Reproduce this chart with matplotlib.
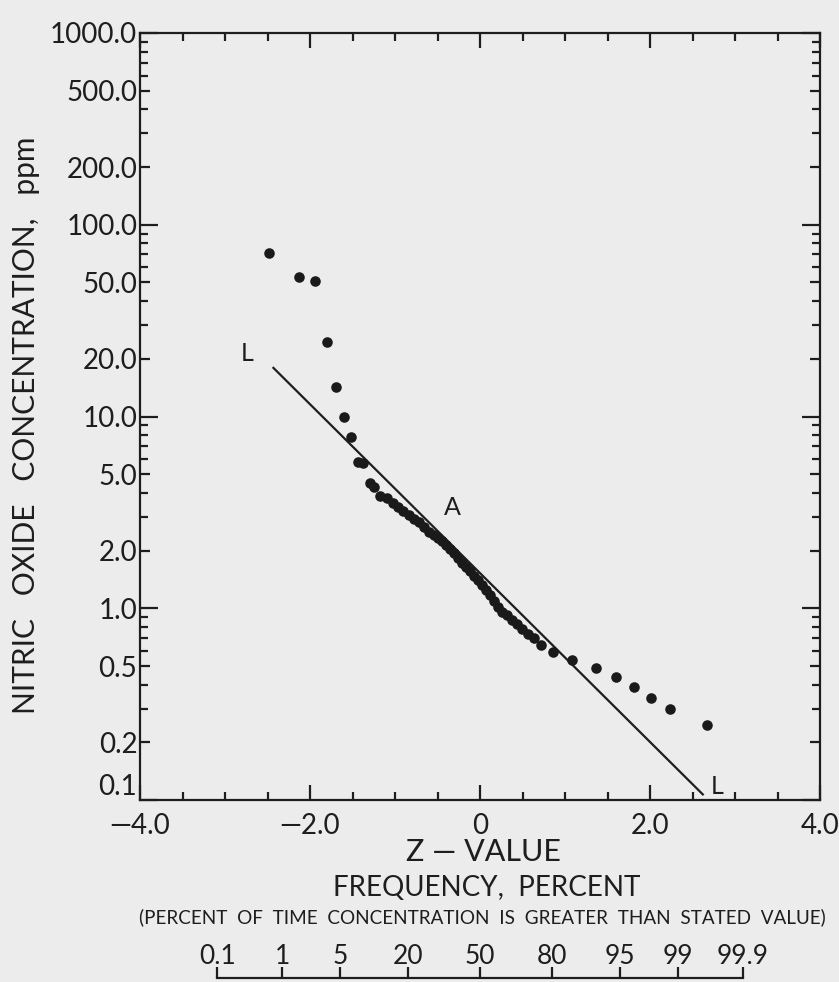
"""
Nitric oxide concentration vs. Z-value (log-normal probability plot).
"""

from statistics import NormalDist

import matplotlib
matplotlib.use("Agg")
import matplotlib.pyplot as plt
import numpy as np

plt.rcParams["font.family"] = ["Lato", "DejaVu Sans"]

# ── Data ─────────────────────────────────────────────────────────────

# observed points (Z-value, NO concentration in ppm)
Z_OBS = [-2.48, -2.13, -1.94, -1.80, -1.69, -1.60, -1.52, -1.44, -1.38, -1.29,
         -1.25, -1.18, -1.09, -1.02, -0.96, -0.91, -0.84, -0.78, -0.72, -0.66,
         -0.60, -0.54, -0.49, -0.45, -0.40, -0.35, -0.31, -0.26, -0.21, -0.16,
         -0.12, -0.07, -0.02, 0.02, 0.07, 0.12, 0.16, 0.21, 0.26, 0.32,
         0.38, 0.44, 0.49, 0.56, 0.64, 0.72, 0.86, 1.08, 1.36, 1.60,
         1.81, 2.01, 2.24, 2.67]
CONC_OBS = [71.0, 53.2, 50.7, 24.4, 14.2, 9.9, 7.8, 5.77, 5.70, 4.49,
            4.28, 3.84, 3.75, 3.53, 3.36, 3.21, 3.05, 2.91, 2.81, 2.64,
            2.49, 2.40, 2.32, 2.23, 2.13, 2.03, 1.94, 1.82, 1.72, 1.64,
            1.56, 1.47, 1.40, 1.32, 1.24, 1.17, 1.09, 1.02, 0.96, 0.92,
            0.87, 0.83, 0.78, 0.73, 0.70, 0.64, 0.59, 0.54, 0.49, 0.44,
            0.39, 0.34, 0.30, 0.245]

# fitted log-normal line L-L
Z_LINE = [-2.44, 2.63]
CONC_LINE = [18.1, 0.106]

Y_TICKS = [0.1, 0.2, 0.5, 1, 2, 5, 10, 20, 50, 100, 200, 500, 1000]
Y_TICK_LABELS = ["0.1", "0.2", "0.5", "1.0", "2.0", "5.0", "10.0", "20.0",
                 "50.0", "100.0", "200.0", "500.0", "1000.0"]
X_TICKS = [-4, -2, 0, 2, 4]
X_TICK_LABELS = ["\u20144.0", "\u20142.0", "0", "2.0", "4.0"]

FREQ_PERCENT = [0.1, 1, 5, 20, 50, 80, 95, 99, 99.9]
FREQ_LABELS = ["0.1", "1", "5", "20", "50", "80", "95", "99", "99.9"]

BG = "#ececec"
INK = "#1e1e1e"

# ── Plot ─────────────────────────────────────────────────────────────

fig = plt.figure(figsize=(8.39, 9.82), dpi=100, facecolor=BG)
ax = fig.add_axes([0.1669, 0.1853, 0.8105, 0.7811], facecolor=BG)

ax.set_yscale("log")
ax.set_xlim(-4, 4)
ax.set_ylim(0.1, 1000)

ax.plot(Z_LINE, CONC_LINE, color=INK, linewidth=1.6, solid_capstyle="butt")
ax.plot(Z_OBS, CONC_OBS, linestyle="none", marker="o", markersize=7.6,
        color="#1a1a1a", markeredgewidth=0)

ax.text(-2.74, 21.4, "L", fontsize=18, color=INK, ha="center", va="center")
ax.text(2.79, 0.118, "L", fontsize=18, color=INK, ha="center", va="center")
ax.text(-0.33, 3.36, "A", fontsize=18, color=INK, ha="center", va="center")

# y ticks: labelled values, long marks on decades, plain minor marks between
ax.set_yticks(Y_TICKS)
ax.set_yticklabels(Y_TICK_LABELS)
minor_y = [m * 10.0 ** e for e in range(-1, 3) for m in (3, 4, 6, 7, 8, 9)]
ax.set_yticks(minor_y, minor=True)
ax.yaxis.set_minor_formatter(matplotlib.ticker.NullFormatter())

ax.set_xticks(X_TICKS)
ax.set_xticklabels(X_TICK_LABELS)
ax.set_xticks(np.arange(-3.5, 4.0, 0.5), minor=True)

ax.tick_params(which="both", direction="in", top=True, right=True,
               width=1.6, color=INK, labelcolor=INK, labelsize=20)
ax.tick_params(which="major", length=7)
ax.tick_params(which="minor", length=6)
ax.tick_params(axis="x", which="major", length=11, pad=9)
ax.tick_params(axis="y", which="major", pad=2)

for tick, val in zip(ax.yaxis.get_major_ticks(), Y_TICKS):
    if np.isclose(np.log10(val), round(np.log10(val))):
        tick.tick1line.set_markersize(13)
        tick.tick2line.set_markersize(13)

# the bottom-most y label sits just above the corner, clear of the x labels
ax.yaxis.get_major_ticks()[0].label1.set_verticalalignment("bottom")

for side in ("left", "right", "top", "bottom"):
    ax.spines[side].set_linewidth(1.6)
    ax.spines[side].set_color(INK)

# y label
fig.text(0.031, 0.567, "NITRIC   OXIDE   CONCENTRATION,   ppm",
         rotation=90, ha="center", va="center", fontsize=21.5, color=INK)

# x labels
fig.text(0.576, 0.132, "Z \u2014 VALUE", ha="center", va="center",
         fontsize=22, color=INK)
fig.text(0.58, 0.096, "FREQUENCY,  PERCENT", ha="center", va="center",
         fontsize=20, color=INK)
fig.text(0.575, 0.066,
         "(PERCENT  OF  TIME  CONCENTRATION  IS  GREATER  THAN  STATED  VALUE)",
         ha="center", va="center", fontsize=13.6, color=INK)

# frequency scale (percent) under the Z axis
nd = NormalDist()
freq_z = [nd.inv_cdf(p / 100.0) for p in FREQ_PERCENT]

axf = fig.add_axes([0.1669, 0.004, 0.8105, 0.009], facecolor="none")
axf.set_xlim(-4, 4)
axf.set_yticks([])
for side in ("left", "right", "top"):
    axf.spines[side].set_visible(False)
axf.spines["bottom"].set_bounds(freq_z[0], freq_z[-1])
axf.spines["bottom"].set_linewidth(1.6)
axf.spines["bottom"].set_color(INK)
axf.set_xticks(freq_z)
axf.set_xticklabels(FREQ_LABELS)
axf.tick_params(axis="x", direction="in", length=8, width=1.6, color=INK,
                bottom=True, top=False, labelbottom=False, labeltop=True,
                labelsize=19, labelcolor=INK, pad=0)

fig.savefig("out.png", dpi=100, facecolor=BG)
